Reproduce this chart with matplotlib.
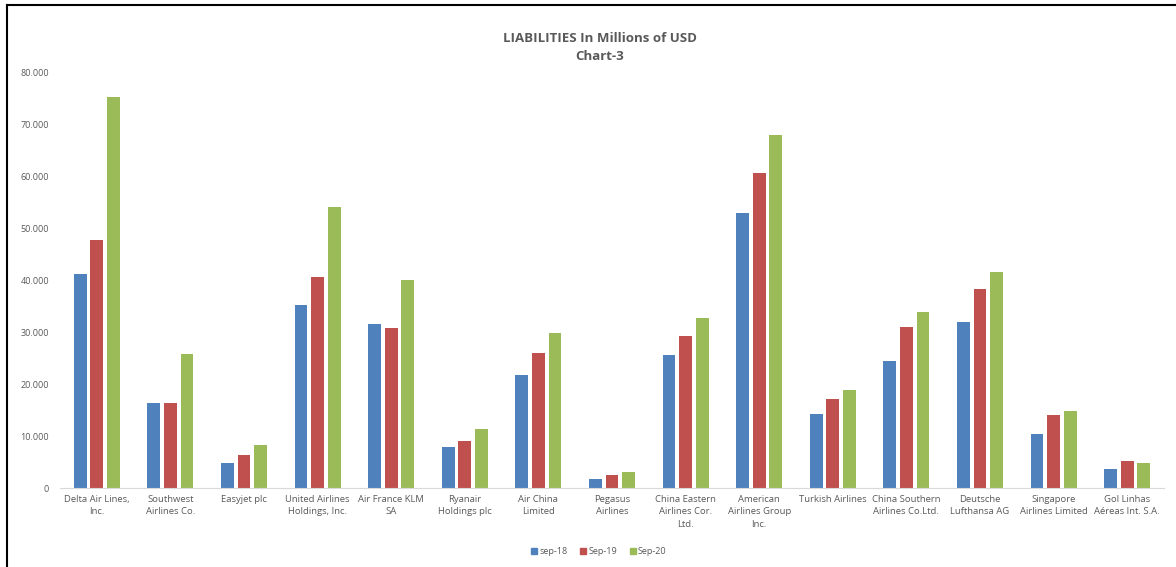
import matplotlib
matplotlib.use("Agg")
import matplotlib.pyplot as plt
from matplotlib.lines import Line2D
from matplotlib.ticker import FuncFormatter
import numpy as np

plt.rcParams['font.family'] = ['Open Sans', 'DejaVu Sans']

categories = ["Delta Air Lines,\nInc.", "Southwest\nAirlines Co.", "Easyjet plc",
              "United Airlines\nHoldings, Inc.", "Air France KLM\nSA", "Ryanair\nHoldings plc",
              "Air China\nLimited", "Pegasus\nAirlines", "China Eastern\nAirlines Cor.\nLtd.",
              "American\nAirlines Group\nInc.", "Turkish Airlines", "China Southern\nAirlines Co.Ltd.",
              "Deutsche\nLufthansa AG", "Singapore\nAirlines Limited", "Gol Linhas\nAéreas Int. S.A."]
series_names = ["sep-18", "Sep-19", "Sep-20"]
sep18 = [41200, 16400, 4800, 35300, 31700, 8000, 21800, 1700, 25700, 53100, 14200, 24500, 32000, 10400, 3700]
sep19 = [47800, 16300, 6300, 40700, 30900, 9100, 26100, 2600, 29300, 60800, 17100, 31000, 38400, 14100, 5300]
sep20 = [75400, 25800, 8200, 54100, 40100, 11300, 29800, 3000, 32800, 68100, 18900, 33900, 41600, 14900, 4800]
yticks = [0, 10000, 20000, 30000, 40000, 50000, 60000, 70000, 80000]
colors = ["#4F81BD", "#C0504D", "#9BBB59"]

W, H = 1176, 567
fig = plt.figure(figsize=(W / 100, H / 100), dpi=100)
ax = fig.add_axes([60 / W, (H - 488) / H, (1164 - 60) / W, (488 - 73) / H])

x = np.arange(len(categories))
bw = 0.175
step = 0.225
for i, (vals, name) in enumerate(zip([sep18, sep19, sep20], series_names)):
    ax.bar(x + (i - 1) * step, vals, width=bw, color=colors[i], label=name, zorder=2)

ax.set_xlim(-0.5, len(categories) - 0.5)
ax.set_ylim(0, 80000)
ax.set_yticks(yticks)
ax.yaxis.set_major_formatter(FuncFormatter(lambda v, p: "0" if v == 0 else f"{int(v):,}".replace(",", ".")))
ax.set_xticks(x)
ax.set_xticklabels(categories, fontsize=6.8, color="#595959", linespacing=1.5)
ax.tick_params(axis='y', labelsize=6.5, labelcolor="#595959", length=0, pad=8)
ax.tick_params(axis='x', length=0, pad=5)
for s in ["top", "right", "left"]:
    ax.spines[s].set_visible(False)
ax.spines["bottom"].set_color("#D9D9D9")
ax.spines["bottom"].set_linewidth(0.8)

fig.text(600 / W, 1 - 38 / H, "LIABILITIES In Millions of USD", ha="center", va="center",
         fontsize=9.5, color="#595959", fontweight="bold")
fig.text(600 / W, 1 - 57 / H, "Chart-3", ha="center", va="center",
         fontsize=9.5, color="#595959", fontweight="bold")

handles = [Line2D([0], [0], marker='s', color='none', markerfacecolor=c, markeredgecolor=c,
                  markersize=4) for c in colors]
fig.legend(handles, series_names, loc="center", bbox_to_anchor=(598 / W, 1 - 552 / H),
           ncol=3, frameon=False, fontsize=6.5, labelcolor="#595959",
           handletextpad=0.1, columnspacing=1.2, handlelength=1.0)

# figure frame lines (left and top)
fig.add_artist(Line2D([7 / W, 7 / W], [0, 1 - 5 / H], color="black", lw=1.5, transform=fig.transFigure))
fig.add_artist(Line2D([7 / W, 1], [1 - 5 / H, 1 - 5 / H], color="black", lw=1.5, transform=fig.transFigure))

fig.savefig("out.png", dpi=100)
